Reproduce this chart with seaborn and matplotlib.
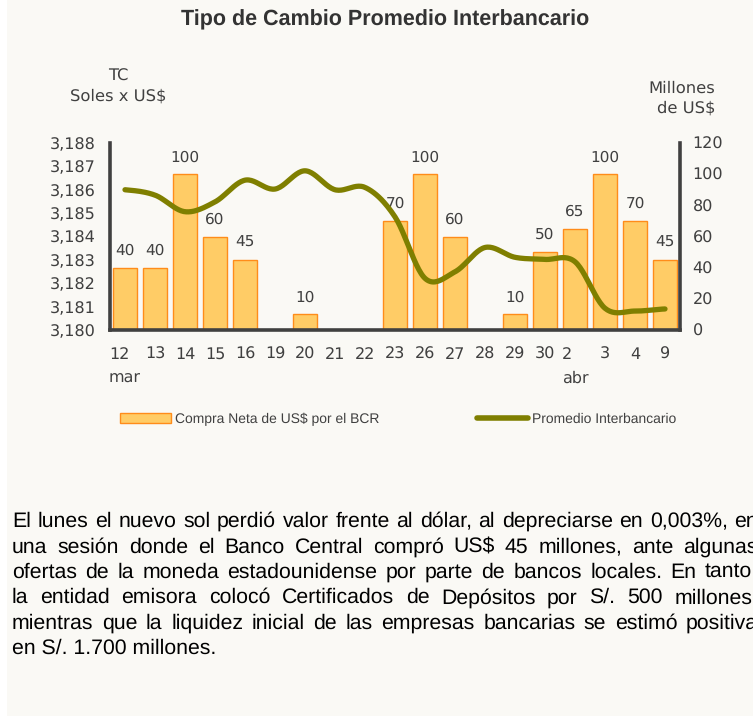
import numpy as np
import pandas as pd
import seaborn as sns
import matplotlib.pyplot as plt
from matplotlib.patches import Patch, Rectangle
from matplotlib.lines import Line2D

fechas = ["12\nmar", "13", "14", "15", "16", "19", "20", "21", "22", "23",
          "26", "27", "28", "29", "30", "2\nabr", "3", "4", "9"]
compra = [40, 40, 100, 60, 45, 0, 10, 0, 0, 70, 100, 60, 0, 10, 50, 65, 100, 70, 45]
tc = [3.1860, 3.18577, 3.18506, 3.18548, 3.18641, 3.18603, 3.18681, 3.18600, 3.18610,
      3.18484, 3.18221, 3.18249, 3.18353, 3.18311, 3.18302, 3.18292, 3.18093, 3.18081, 3.18090]
tc_ticks = [3.180, 3.181, 3.182, 3.183, 3.184, 3.185, 3.186, 3.187, 3.188]
mill_ticks = [0, 20, 40, 60, 80, 100, 120]

titulo = "Tipo de Cambio Promedio Interbancario"
parrafo = [
    "El lunes el nuevo sol perdió valor frente al dólar, al depreciarse en 0,003%, en",
    "una sesión donde el Banco Central compró US$ 45 millones, ante algunas",
    "ofertas de la moneda estadounidense por parte de bancos locales. En tanto,",
    "la entidad emisora colocó Certificados de Depósitos por S/. 500 millones,",
    "mientras que la liquidez inicial de las empresas bancarias se estimó positiva",
    "en S/. 1.700 millones.",
]

BG = "#FAF9F5"
GRIS = "#404040"
W, H = 753, 716

plt.rcParams["font.family"] = ["DejaVu Sans"]
plt.rcParams["text.hinting"] = "no_hinting"


def suavizar(y, n=24):
    # smoothed line like the spreadsheet (Catmull-Rom through the points)
    p = np.r_[y[0], y, y[-1]]
    xs, ys = [], []
    for i in range(len(y) - 1):
        p0, p1, p2, p3 = p[i], p[i + 1], p[i + 2], p[i + 3]
        t = np.linspace(0, 1, n, endpoint=False)
        ys.append(0.5 * (2 * p1 + (-p0 + p2) * t + (2 * p0 - 5 * p1 + 4 * p2 - p3) * t ** 2
                         + (-p0 + 3 * p1 - 3 * p2 + p3) * t ** 3))
        xs.append(i + t)
    xs.append([len(y) - 1])
    ys.append([y[-1]])
    return np.concatenate(xs), np.concatenate(ys)


fig = plt.figure(figsize=(W / 100, H / 100), dpi=100, facecolor=BG)
fig.add_artist(Rectangle((0, 0), 7 / W, 1, transform=fig.transFigure, color="white", lw=0))

ax = fig.add_axes([110 / W, 1 - 330 / H, 570 / W, 187 / H])
ax.patch.set_visible(False)

df = pd.DataFrame({"fecha": fechas, "compra": compra})
sns.barplot(data=df, x="fecha", y="compra", order=fechas, color="#FFCC66",
            edgecolor="#FF8C1A", linewidth=1, width=0.82, saturation=1,
            errorbar=None, ax=ax)
ax.bar_label(ax.containers[0], labels=[str(v) if v else "" for v in compra],
             padding=7, fontsize=11, color=GRIS)
ax.set_ylim(0, 120)
ax.set_yticks(mill_ticks)
ax.set_xlabel("")
ax.set_ylabel("")
ax.tick_params(axis="x", length=0, pad=12, labelsize=11.5, labelcolor=GRIS)
for lab in ax.get_xticklabels():
    lab.set_multialignment("left")
    lab.set_linespacing(1.7)

ax2 = ax.twinx()
xs, ys = suavizar(np.array(tc))
ax2.plot(xs, ys, color="#7F7F00", lw=3.8, solid_capstyle="round")
ax2.set_ylim(3.180, 3.188)
ax2.set_yticks(tc_ticks)
ax2.set_yticklabels([f"{v:.3f}".replace(".", ",") for v in tc_ticks])
ax2.yaxis.tick_left()
ax2.tick_params(axis="y", length=0, pad=10, labelsize=11.5, labelcolor=GRIS)
ax2.set_xlim(-0.5, len(fechas) - 0.5)

ax.yaxis.tick_right()
ax.tick_params(axis="y", length=0, pad=9, labelsize=11.5, labelcolor=GRIS)

for a in (ax, ax2):
    for s in a.spines.values():
        s.set_visible(False)
        s.set_color(GRIS)
        s.set_linewidth(2.6)
ax.spines["bottom"].set_visible(True)
ax.spines["right"].set_visible(True)
ax2.spines["left"].set_visible(True)

fig.text(385 / W, 1 - 20 / H, titulo, ha="center", va="center", fontsize=15.5,
         fontweight="bold", family=["Liberation Sans", "DejaVu Sans"], color="#333333")
fig.text(118 / W, 1 - 86 / H, "TC\nSoles x US$", ha="center", va="center",
         fontsize=11.8, color=GRIS, linespacing=1.35)
fig.text(715 / W, 1 - 98 / H, "Millones\nde US$", ha="right", va="center",
         fontsize=11.8, color=GRIS, linespacing=1.35, multialignment="right")

narrow = {"family": ["Liberation Sans Narrow", "Liberation Sans"], "size": 10}
handles = [Patch(facecolor="#FFCC66", edgecolor="#FF8C1A", lw=1),
           Line2D([], [], color="#7F7F00", lw=4, solid_capstyle="round")]
leg = fig.legend(handles, ["Compra Neta de US$ por el BCR", "Promedio Interbancario"],
                 loc="center", bbox_to_anchor=(398 / W, 1 - 419 / H), ncol=2,
                 frameon=False, prop=narrow, handlelength=3.7, handletextpad=0.3,
                 columnspacing=7.0)
for t in leg.get_texts():
    t.set_color(GRIS)

# justified paragraph, word by word
renderer = fig.canvas.get_renderer()
x0, x1 = 12, 758
fuente = {"family": ["Liberation Sans", "DejaVu Sans"], "size": 15.3, "color": "black"}
for k, linea in enumerate(parrafo):
    y = 1 - (527 + 25.4 * k) / H
    if k == len(parrafo) - 1:
        fig.text(x0 / W, y, linea, va="baseline", **fuente)
        continue
    palabras = linea.split()
    textos = [fig.text(0, y, p, va="baseline", **fuente) for p in palabras]
    anchos = [t.get_window_extent(renderer).width for t in textos]
    hueco = (x1 - x0 - sum(anchos)) / (len(palabras) - 1)
    x = x0
    for t, a in zip(textos, anchos):
        t.set_x(x / W)
        x += a + hueco

fig.savefig("out.png", dpi=100, facecolor=BG)
